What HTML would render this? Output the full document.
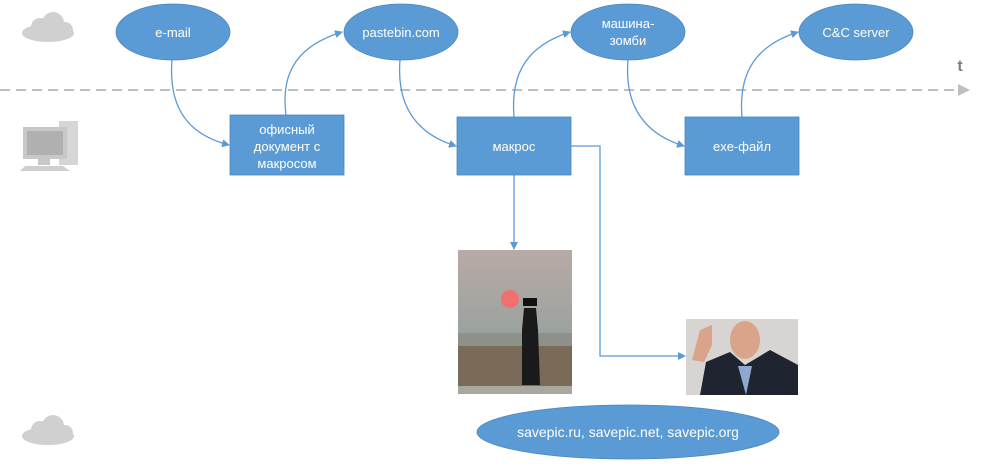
<!DOCTYPE html>
<html><head><meta charset="utf-8"><style>body{margin:0;background:#fff}svg{display:block}text{font-family:"Liberation Sans","DejaVu Sans",sans-serif;fill:#fff;font-size:13px;text-anchor:middle}</style></head><body>
<svg width="1000" height="468" viewBox="0 0 1000 468">
<defs><marker id="a" markerWidth="8" markerHeight="8" refX="7" refY="4" orient="auto" markerUnits="userSpaceOnUse"><path d="M0,0 L8,4 L0,8z" fill="#5b9bd5"/></marker>
<linearGradient id="sky" x1="0" y1="0" x2="0" y2="1"><stop offset="0" stop-color="#b8aaa6"/><stop offset="0.6" stop-color="#9aa29e"/><stop offset="1" stop-color="#8a8c84"/></linearGradient></defs>
<!-- dashed timeline -->
<line x1="0" y1="90" x2="958" y2="90" stroke="#bfbfbf" stroke-width="2" stroke-dasharray="10,6"/>
<path d="M958,84 L970,90 L958,96z" fill="#bfbfbf"/>
<text x="960" y="71" style="fill:#7f7f7f;font-size:16px;font-weight:bold">t</text>
<!-- clouds -->
<g fill="#d0d0d0"><ellipse cx="48" cy="33" rx="26" ry="9"/><circle cx="40" cy="27" r="9"/><circle cx="53" cy="23" r="11"/><circle cx="65" cy="30" r="8"/></g>
<g fill="#d0d0d0"><ellipse cx="48" cy="436" rx="26" ry="9"/><circle cx="40" cy="430" r="9"/><circle cx="53" cy="426" r="11"/><circle cx="65" cy="433" r="8"/></g>
<!-- computer -->
<rect x="59" y="121" width="19" height="44" fill="#d6d6d6"/>
<rect x="23" y="127" width="44" height="32" fill="#c8c8c8"/><rect x="27" y="131" width="36" height="24" fill="#b0b0b0"/>
<rect x="38" y="159" width="12" height="6" fill="#c8c8c8"/>
<path d="M25,166 L63,166 L70,171 L20,171z" fill="#cfcfcf"/>
<!-- connectors -->
<g fill="none" stroke="#5b9bd5" stroke-width="1.3" marker-end="url(#a)">
<path d="M172,60 C168,110 190,135 229,145"/>
<path d="M286,115 C280,70 300,45 342,32"/>
<path d="M400,60 C396,110 420,135 456,146"/>
<path d="M514,117 C510,70 530,45 570,32"/>
<path d="M628,60 C624,110 648,135 684,146"/>
<path d="M742,117 C738,70 758,45 798,32"/>
<path d="M514,175 L514,249"/>
<path d="M571,146 L600,146 L600,356 L685,356"/>
</g>
<!-- ellipses -->
<g fill="#5b9bd5" stroke="#4a86c0" stroke-width="0.8">
<ellipse cx="173" cy="32" rx="57" ry="28"/><ellipse cx="401" cy="32" rx="57" ry="28"/>
<ellipse cx="628" cy="32" rx="57" ry="28"/><ellipse cx="856" cy="32" rx="57" ry="28"/>
<ellipse cx="628" cy="432" rx="151" ry="27"/>
<rect x="230" y="115" width="114" height="60"/><rect x="457" y="117" width="114" height="58"/><rect x="685" y="117" width="114" height="58"/>
</g>
<text x="173" y="37">e-mail</text><text x="401" y="37">pastebin.com</text>
<text x="628" y="28">машина-</text><text x="628" y="45">зомби</text>
<text x="856" y="37">C&amp;C server</text>
<text x="287" y="134">офисный</text><text x="287" y="151">документ с</text><text x="287" y="168">макросом</text>
<text x="514" y="151">макрос</text><text x="742" y="151">exe-файл</text>
<text x="628" y="437" style="font-size:14px">savepic.ru, savepic.net, savepic.org</text>
<!-- photo 1 -->
<rect x="458" y="250" width="114" height="144" fill="url(#sky)"/>
<rect x="458" y="333" width="114" height="20" fill="#8e918a"/>
<rect x="458" y="346" width="114" height="42" fill="#7a6a58"/>
<rect x="458" y="386" width="114" height="8" fill="#a8a8a0"/>
<circle cx="510" cy="299" r="9" fill="#f07070"/>
<path d="M524,308 L536,308 L538,330 L540,385 L522,385 L522,330z" fill="#1a1a1a"/>
<rect x="523" y="298" width="14" height="8" fill="#111"/>
<!-- photo 2 -->
<rect x="686" y="319" width="112" height="76" fill="#d8d4d2"/>
<path d="M700,395 L706,362 L730,352 L745,365 L770,350 L798,365 L798,395z" fill="#1e2430"/>
<ellipse cx="745" cy="340" rx="15" ry="19" fill="#d9a48a"/>
<path d="M692,360 L700,330 L712,325 L712,345 L704,362z" fill="#d9a48a"/>
<path d="M738,366 L752,366 L746,395z" fill="#8fa8d0"/>
</svg>
</body></html>
